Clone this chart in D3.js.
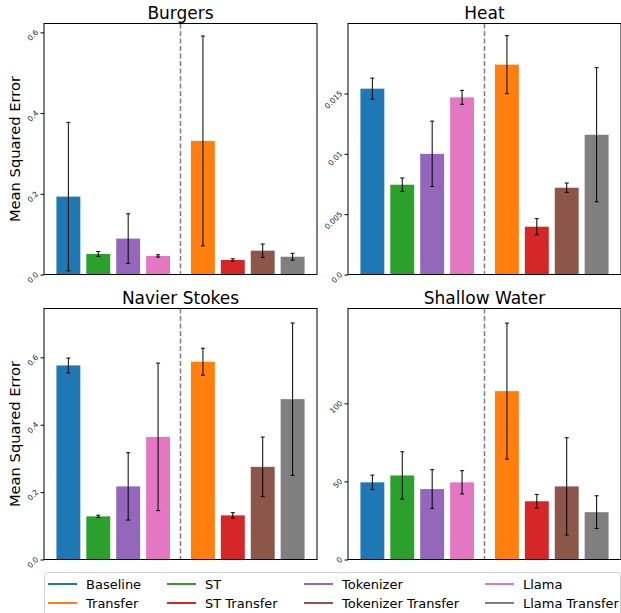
<!DOCTYPE html>
<html>
<head>
<meta charset="utf-8">
<script src="https://cdn.jsdelivr.net/npm/d3@7"></script>
<style>
  body { margin: 0; background: #fff; }
  svg { display: block; font-family: "DejaVu Sans", sans-serif; }
</style>
</head>
<body>
<div id="chart"></div>
<script>
// models, in bar order (baselines left of the dashed line, transfer runs right)
const models = ["Baseline", "ST", "Tokenizer", "Llama", "Transfer", "ST Transfer", "Tokenizer Transfer", "Llama Transfer"];
const positions = [0, 1, 2, 3, 4.5, 5.5, 6.5, 7.5];
const colors = ["#1f77b4", "#2ca02c", "#9467bd", "#e377c2", "#ff7f0e", "#d62728", "#8c564b", "#7f7f7f"];

const titles = ["Burgers", "Heat", "Navier Stokes", "Shallow Water"];

const burgersMse = [0.193, 0.051, 0.089, 0.046, 0.331, 0.036, 0.059, 0.044];
const burgersErr = [0.184, 0.006, 0.0615, 0.0028, 0.26, 0.003, 0.0165, 0.0085];
const heatMse = [0.0154, 0.00744, 0.0100, 0.01468, 0.01739, 0.00396, 0.00719, 0.01158];
const heatErr = [0.00087, 0.00056, 0.00271, 0.00058, 0.0024, 0.00067, 0.00039, 0.00556];
const navierMse = [0.576, 0.128, 0.217, 0.364, 0.587, 0.131, 0.275, 0.476];
const navierErr = [0.022, 0.0035, 0.1, 0.219, 0.04, 0.008, 0.0885, 0.226];
const shallowMse = [49.4, 53.8, 45.1, 49.4, 107.8, 37.3, 46.8, 30.3];
const shallowErr = [4.65, 15.15, 12.4, 7.45, 43.55, 4.35, 31.15, 10.5];

const yMax = [0.622, 0.0208, 0.745, 160.7];
const tickValues = [[0, 0.2, 0.4, 0.6], [0, 0.005, 0.01, 0.015], [0, 0.2, 0.4, 0.6], [0, 50, 100]];
const tickLabels = [["0.0", "0.2", "0.4", "0.6"], ["0.0", "0.005", "0.01", "0.015"], ["0.0", "0.2", "0.4", "0.6"], ["0", "50", "100"]];

// legend order (matplotlib fills columns first)
const legendOrder = ["Baseline", "Transfer", "ST", "ST Transfer", "Tokenizer", "Tokenizer Transfer", "Llama", "Llama Transfer"];

const series = [
  { mse: burgersMse, err: burgersErr },
  { mse: heatMse, err: heatErr },
  { mse: navierMse, err: navierErr },
  { mse: shallowMse, err: shallowErr }
];

const width = 621, height = 613;
const cols = [44, 348];
const rows = [23.5, 308.5];
const panelW = 273, panelH = 251;

const svg = d3.select("#chart").append("svg")
  .attr("width", width)
  .attr("height", height);

series.forEach((s, i) => {
  const x0 = cols[i % 2], y0 = rows[Math.floor(i / 2)];
  const g = svg.append("g");

  const x = d3.scaleLinear().domain([-0.815, 8.315]).range([x0, x0 + panelW]);
  const y = d3.scaleLinear().domain([0, yMax[i]]).range([y0 + panelH, y0]);
  const bw = x(0.8) - x(0);

  const data = models.map((m, j) => ({ name: m, pos: positions[j], v: s.mse[j], e: s.err[j], c: colors[j] }));

  // bars
  g.selectAll(".bar")
    .data(data)
    .enter().append("rect")
    .attr("class", "bar")
    .attr("x", d => x(d.pos) - bw / 2)
    .attr("width", bw)
    .attr("y", d => y(d.v))
    .attr("height", d => y(0) - y(d.v))
    .attr("fill", d => d.c);

  // error bars
  const eb = g.selectAll(".err")
    .data(data)
    .enter().append("g")
    .attr("class", "err")
    .attr("stroke", "#000")
    .attr("stroke-width", 1);
  eb.append("line")
    .attr("x1", d => x(d.pos)).attr("x2", d => x(d.pos))
    .attr("y1", d => y(d.v - d.e)).attr("y2", d => y(d.v + d.e));
  eb.append("line")
    .attr("x1", d => x(d.pos) - 2).attr("x2", d => x(d.pos) + 2)
    .attr("y1", d => y(d.v + d.e)).attr("y2", d => y(d.v + d.e));
  eb.append("line")
    .attr("x1", d => x(d.pos) - 2).attr("x2", d => x(d.pos) + 2)
    .attr("y1", d => y(d.v - d.e)).attr("y2", d => y(d.v - d.e));

  // divider between baselines and transfer
  g.append("line")
    .attr("x1", x(3.75)).attr("x2", x(3.75))
    .attr("y1", y0).attr("y2", y0 + panelH)
    .attr("stroke", "#808080")
    .attr("stroke-width", 1.5)
    .attr("stroke-dasharray", "5,2.5");

  // frame
  g.append("rect")
    .attr("x", x0).attr("y", y0)
    .attr("width", panelW).attr("height", panelH)
    .attr("fill", "none")
    .attr("stroke", "#000")
    .attr("stroke-width", 1);

  // y axis
  const ax = g.append("g")
    .attr("transform", `translate(${x0},0)`)
    .call(d3.axisLeft(y)
      .tickValues(tickValues[i])
      .tickFormat((d, k) => tickLabels[i][k])
      .tickSize(3.5)
      .tickPadding(0));
  ax.select(".domain").remove();
  ax.selectAll(".tick line").attr("stroke", "#000");
  ax.selectAll(".tick text")
    .attr("x", -5)
    .attr("dy", 0)
    .attr("text-anchor", "end")
    .attr("transform", "rotate(-45,-5,0)")
    .attr("font-size", 7.5)
    .attr("font-family", "DejaVu Sans")
    .attr("fill", "#222");

  // title
  svg.append("text")
    .attr("x", x0 + panelW / 2)
    .attr("y", y0 - 5)
    .attr("text-anchor", "middle")
    .attr("font-size", 17)
    .attr("fill", "#000")
    .text(titles[i]);

  if (i % 2 === 0) {
    svg.append("text")
      .attr("transform", `translate(20,${y0 + panelH / 2}) rotate(-90)`)
      .attr("text-anchor", "middle")
      .attr("font-size", 14.7)
      .attr("fill", "#000")
      .text("Mean Squared Error");
  }
});

// legend
const legend = svg.append("g");
legend.append("rect")
  .attr("x", 44.5).attr("y", 572.5)
  .attr("width", 576).attr("height", 50)
  .attr("rx", 3)
  .attr("fill", "#fff")
  .attr("stroke", "#d0d0d0")
  .attr("stroke-width", 1);

const legendCols = [48, 167, 304, 485];
const legendRows = [584, 603];
legendOrder.forEach((name, k) => {
  const lx = legendCols[Math.floor(k / 2)];
  const ly = legendRows[k % 2];
  const c = colors[models.indexOf(name)];
  legend.append("line")
    .attr("x1", lx).attr("x2", lx + 29)
    .attr("y1", ly).attr("y2", ly)
    .attr("stroke", c)
    .attr("stroke-width", 2);
  legend.append("text")
    .attr("x", lx + 38)
    .attr("y", ly)
    .attr("dy", "0.35em")
    .attr("font-size", 13)
    .attr("fill", "#000")
    .text(name);
});
</script>
</body>
</html>
